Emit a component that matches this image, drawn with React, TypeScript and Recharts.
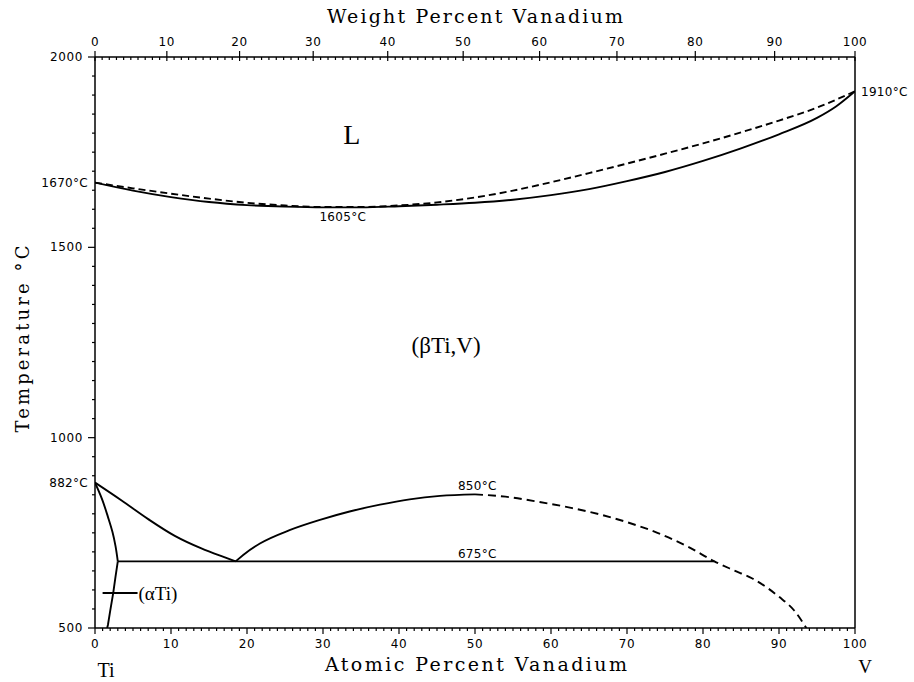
import React from 'react';
import { LineChart, Line, XAxis, YAxis, ReferenceDot, Customized } from 'recharts';

// atomic masses used for the weight-percent scale on top
const M_TI = 47.867;
const M_V = 50.942;
const wtToAt = (w: number) => (w / M_V) / (w / M_V + (100 - w) / M_TI) * 100;
const atToWt = (a: number) => (a * M_V) / (a * M_V + (100 - a) * M_TI) * 100;

// [atomic % V, temperature °C]
const liquidus = [
  [0, 1670], [5, 1655], [10, 1641], [15, 1628], [20, 1617], [25, 1610], [30, 1606],
  [35, 1606], [40, 1610], [45, 1618], [50, 1631], [55, 1649], [60, 1671], [65, 1695],
  [70, 1720], [75, 1746], [80, 1773], [85, 1802], [90, 1833], [95, 1867], [100, 1910],
];
const solidus = [
  [0, 1670], [5, 1649], [10, 1632], [15, 1619], [20, 1611], [25, 1607], [30, 1605],
  [35, 1605], [40, 1608], [45, 1612], [50, 1617], [55, 1625], [60, 1637], [65, 1653],
  [70, 1674], [75, 1698], [80, 1727], [85, 1760], [90, 1797], [95, 1840], [97.5, 1870], [100, 1910],
];
const betaTransus = [
  [0, 882], [3.5, 835], [7, 786], [10.5, 742], [14, 709], [17, 686], [18.5, 675],
];
const alphaUpper = [
  [0, 882], [0.9, 840], [1.7, 792], [2.3, 752], [2.7, 715], [3.0, 675],
];
const alphaLower = [
  [3.0, 675], [2.7, 635], [2.4, 592], [2.0, 545], [1.7, 508], [1.6, 500],
];
const gapSolid = [
  [18.5, 675], [19.5, 692], [21.7, 722], [25.6, 757], [29.6, 784], [33.5, 806],
  [37.5, 824], [41.4, 838], [45.4, 847], [50, 851],
];
const gapDashed = [
  [50, 851], [54, 845], [58.5, 831], [62.8, 815], [66.5, 798], [70, 778], [74, 750],
  [78, 714], [81.5, 675], [84, 652], [86.5, 630], [88.5, 605], [90, 582], [92, 546], [93.6, 500],
];
const eutectoid = [[3, 675], [81.5, 675]];
const alphaPointer = [[1.0, 592], [5.6, 592]];

const atomicTicks = Array.from({ length: 101 }, (_, i) => i);
const weightTicks = Array.from({ length: 101 }, (_, i) => i);
const tempTicks = Array.from({ length: 31 }, (_, i) => 500 + i * 50);

const toPts = (arr: number[][]) => arr.map(([x, t]) => ({ x, t }));

const numFont = { fontFamily: 'DejaVu Sans', fontSize: 12, letterSpacing: 0.6, fill: '#000' };

const BottomTick = ({ x, y, payload }: any) => {
  const major = payload.value % 10 === 0;
  return (
    <g>
      <line x1={x} x2={x} y1={y} y2={y + (major ? 6 : 3)} stroke="#000" strokeWidth={1.2} />
      {major && (
        <text x={x} y={y + 16} textAnchor="middle" dominantBaseline="central" {...numFont}>
          {payload.value}
        </text>
      )}
    </g>
  );
};

const TopTick = ({ x, y, payload }: any) => {
  const wt = Math.round(atToWt(payload.value));
  const major = wt % 10 === 0;
  return (
    <g>
      <line x1={x} x2={x} y1={y - (major ? 6 : 0)} y2={y + (major ? 4 : 3)} stroke="#000" strokeWidth={1.2} />
      {major && (
        <text x={x} y={y - 15} textAnchor="middle" dominantBaseline="central" {...numFont}>
          {wt}
        </text>
      )}
    </g>
  );
};

const LeftTick = ({ x, y, payload }: any) => {
  const major = payload.value % 500 === 0;
  return (
    <g>
      <line x1={x - (major ? 7 : 3)} x2={x} y1={y} y2={y} stroke="#000" strokeWidth={1.2} />
      {major && (
        <text x={x - 12} y={y} textAnchor="end" dominantBaseline="central" {...numFont}>
          {payload.value}
        </text>
      )}
    </g>
  );
};

const RightTick = ({ x, y, payload }: any) => {
  const major = payload.value % 500 === 0;
  return (
    <line x1={x - (major ? 0 : 3)} x2={x + (major ? 4 : 0)} y1={y} y2={y} stroke="#000" strokeWidth={1.2} />
  );
};

const Titles = () => (
  <g fill="#000">
    <text x={475} y={23} textAnchor="middle" textLength={296} lengthAdjust="spacing"
      fontFamily="DejaVu Serif" fontSize={19}>Weight Percent Vanadium</text>
    <text x={476} y={671} textAnchor="middle" textLength={302} lengthAdjust="spacing"
      fontFamily="DejaVu Serif" fontSize={19}>Atomic Percent Vanadium</text>
    <text transform="translate(29,339) rotate(-90)" textAnchor="middle" textLength={187}
      lengthAdjust="spacing" fontFamily="DejaVu Serif" fontSize={18}>Temperature °C</text>
    <text x={106} y={677} textAnchor="middle" fontFamily="Liberation Serif" fontSize={20}>Ti</text>
    <text x={865} y={673} textAnchor="middle" fontFamily="Liberation Serif" fontSize={19}>V</text>
  </g>
);

const smallLabel = { fontFamily: 'DejaVu Sans', fontSize: 12, letterSpacing: 0.3, fill: '#000' };

export default function App() {
  const solid = { stroke: '#000', strokeWidth: 1.9, dot: false, activeDot: false, isAnimationActive: false };
  return (
    <div style={{ position: 'absolute', left: 0, top: 0, width: 914, height: 682, background: '#fff' }}>
      <LineChart width={914} height={682} margin={{ top: 27, right: 29, bottom: 24, left: 35 }}>
        <XAxis dataKey="x" type="number" domain={[0, 100]} allowDataOverflow ticks={atomicTicks}
          interval={0} height={30} tickSize={0} tickMargin={0} tick={(p: any) => <BottomTick {...p} />}
          axisLine={{ stroke: '#000', strokeWidth: 1.5 }} tickLine={false} />
        <XAxis xAxisId="top" orientation="top" dataKey="x" type="number" domain={[0, 100]} allowDataOverflow
          ticks={weightTicks.map(wtToAt)} interval={0} height={30} tickSize={0} tickMargin={0}
          tick={(p: any) => <TopTick {...p} />} axisLine={{ stroke: '#000', strokeWidth: 1.3 }} tickLine={false} />
        <YAxis dataKey="t" type="number" domain={[500, 2000]} allowDataOverflow ticks={tempTicks}
          interval={0} width={60} tickSize={0} tickMargin={0} tick={(p: any) => <LeftTick {...p} />}
          axisLine={{ stroke: '#000', strokeWidth: 1.5 }} tickLine={false} />
        <YAxis yAxisId="right" orientation="right" dataKey="t" type="number" domain={[500, 2000]}
          ticks={tempTicks} interval={0} width={30} tickSize={0} tickMargin={0}
          tick={(p: any) => <RightTick {...p} />} axisLine={{ stroke: '#000', strokeWidth: 1.5 }} tickLine={false} />

        <Line data={toPts(liquidus)} dataKey="t" type="monotone" strokeDasharray="7 4" {...solid} />
        <Line data={toPts(solidus)} dataKey="t" type="monotone" {...solid} />
        <Line data={toPts(betaTransus)} dataKey="t" type="monotone" {...solid} />
        <Line data={toPts(alphaUpper)} dataKey="t" type="monotoneY" {...solid} />
        <Line data={toPts(alphaLower)} dataKey="t" type="linear" {...solid} />
        <Line data={toPts(gapSolid)} dataKey="t" type="monotone" {...solid} />
        <Line data={toPts(gapDashed)} dataKey="t" type="monotone" strokeDasharray="8 5" {...solid} />
        <Line data={toPts(eutectoid)} dataKey="t" type="linear" {...solid} />
        <Line data={toPts(alphaPointer)} dataKey="t" type="linear" {...solid} />

        <ReferenceDot x={0} y={1670} r={0} fill="none" stroke="none" ifOverflow="visible"
          label={{ value: '1670°C', position: 'left', offset: 7, ...smallLabel }} />
        <ReferenceDot x={0} y={882} r={0} fill="none" stroke="none" ifOverflow="visible"
          label={{ value: '882°C', position: 'left', offset: 7, ...smallLabel }} />
        <ReferenceDot x={100} y={1910} r={0} fill="none" stroke="none" ifOverflow="visible"
          label={{ value: '1910°C', position: 'right', offset: 6, ...smallLabel }} />
        <ReferenceDot x={32.6} y={1605} r={0} fill="none" stroke="none" ifOverflow="visible"
          label={{ value: '1605°C', position: 'bottom', offset: 5, ...smallLabel }} />
        <ReferenceDot x={50.3} y={851} r={0} fill="none" stroke="none" ifOverflow="visible"
          label={{ value: '850°C', position: 'top', offset: 4, ...smallLabel }} />
        <ReferenceDot x={50.3} y={675} r={0} fill="none" stroke="none" ifOverflow="visible"
          label={{ value: '675°C', position: 'top', offset: 3, ...smallLabel }} />
        <ReferenceDot x={33.8} y={1798} r={0} fill="none" stroke="none" ifOverflow="visible"
          label={{ value: 'L', position: 'center', fontFamily: 'Liberation Serif', fontSize: 28, fill: '#000' }} />
        <ReferenceDot x={46.2} y={1243} r={0} fill="none" stroke="none" ifOverflow="visible"
          label={{ value: '(βTi,V)', position: 'center', fontFamily: 'Liberation Serif', fontSize: 23, fill: '#000' }} />
        <ReferenceDot x={5.6} y={592} r={0} fill="none" stroke="none" ifOverflow="visible"
          label={{ value: '(αTi)', position: 'right', offset: 1, fontFamily: 'Liberation Serif', fontSize: 19, fill: '#000' }} />

        <Customized component={Titles} />
      </LineChart>
    </div>
  );
}
